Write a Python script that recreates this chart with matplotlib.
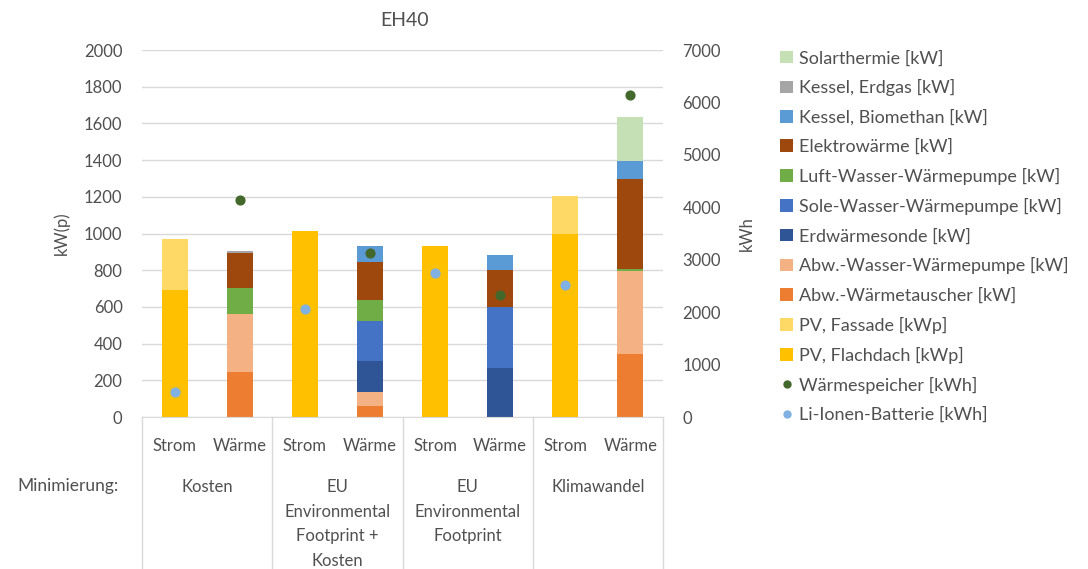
import numpy as np
import matplotlib
matplotlib.use('Agg')
import matplotlib.pyplot as plt
import matplotlib.transforms as mtransforms
from matplotlib.lines import Line2D

plt.rcParams['font.family'] = ['Lato', 'DejaVu Sans']

# Category labels
categories = ['Strom', 'Wärme'] * 4
groups = ['Kosten', 'EU\nEnvironmental\nFootprint +\nKosten',
          'EU\nEnvironmental\nFootprint', 'Klimawandel']

# Installed capacities [kW / kWp] - stack order bottom to top
pv_flachdach = [690, 0, 1012, 0, 930, 0, 1000, 0]
pv_fassade = [282, 0, 0, 0, 0, 0, 205, 0]
abw_waermetauscher = [0, 247, 0, 58, 0, 0, 0, 345]
abw_wasser_wp = [0, 314, 0, 78, 0, 0, 0, 452]
erdwaermesonde = [0, 0, 0, 171, 0, 267, 0, 0]
sole_wasser_wp = [0, 0, 0, 218, 0, 331, 0, 0]
luft_wasser_wp = [0, 142, 0, 114, 0, 0, 0, 8]
elektrowaerme = [0, 192, 0, 207, 0, 205, 0, 494]
kessel_biomethan = [0, 0, 0, 86, 0, 78, 0, 96]
kessel_erdgas = [0, 10, 0, 0, 0, 0, 0, 0]
solarthermie = [0, 0, 0, 0, 0, 0, 0, 242]

# Storage [kWh] (right axis)
nan = np.nan
waermespeicher = [nan, 4133, nan, 3134, nan, 2333, nan, 6147]
li_ionen_batterie = [471, nan, 2054, nan, 2752, nan, 2512, nan]

series = [
    ('PV, Flachdach [kWp]', pv_flachdach, '#FFC000'),
    ('PV, Fassade [kWp]', pv_fassade, '#FFD966'),
    ('Abw.-Wärmetauscher [kW]', abw_waermetauscher, '#ED7D31'),
    ('Abw.-Wasser-Wärmepumpe [kW]', abw_wasser_wp, '#F4B183'),
    ('Erdwärmesonde [kW]', erdwaermesonde, '#2F5597'),
    ('Sole-Wasser-Wärmepumpe [kW]', sole_wasser_wp, '#4472C4'),
    ('Luft-Wasser-Wärmepumpe [kW]', luft_wasser_wp, '#70AD47'),
    ('Elektrowärme [kW]', elektrowaerme, '#9E480E'),
    ('Kessel, Biomethan [kW]', kessel_biomethan, '#5B9BD5'),
    ('Kessel, Erdgas [kW]', kessel_erdgas, '#A5A5A5'),
    ('Solarthermie [kW]', solarthermie, '#C5E0B4'),
]

txt = '#505050'
grid = '#D9D9D9'

fig = plt.figure(figsize=(10.88, 5.69), dpi=100)
ax = fig.add_axes([0.1305, 0.267, 0.4789, 0.645])
x = np.arange(len(categories))

handles = []
bottom = np.zeros(len(categories))
for name, vals, color in series:
    vals = np.array(vals, dtype=float)
    b = ax.bar(x, vals, 0.4, bottom=bottom, color=color, label=name, zorder=2)
    handles.append(b)
    bottom += vals

ax.set_xlim(-0.5, len(categories) - 0.5)
ax.set_ylim(0, 2000)
ax.set_yticks(np.arange(0, 2001, 200))
ax.yaxis.grid(True, color=grid, lw=1)
ax.set_axisbelow(True)
for s in ['left', 'right', 'top']:
    ax.spines[s].set_visible(False)
ax.spines['bottom'].set_color(grid)
ax.set_xticks(x, categories)
ax.tick_params(axis='x', length=0, pad=15, labelsize=12, labelcolor=txt)
ax.tick_params(axis='y', length=0, pad=14, labelsize=12, labelcolor=txt)
ax.set_ylabel('kW(p)', fontsize=12, color=txt)
ax.yaxis.set_label_coords(-0.138, 0.5)

ax2 = ax.twinx()
ax2.set_ylim(0, 7000)
ax2.set_yticks(np.arange(0, 7001, 1000))
for s in ax2.spines.values():
    s.set_visible(False)
ax2.tick_params(axis='y', length=0, pad=14, labelsize=12, labelcolor=txt)
ax2.set_ylabel('kWh', fontsize=12, color=txt)
ax2.yaxis.set_label_coords(1.146, 0.5)
ax2.scatter(x, waermespeicher, s=40, color='#43682B', zorder=3)
ax2.scatter(x, li_ionen_batterie, s=40, color='#80B1E2', zorder=3)

# Multi-level category axis
trans = mtransforms.blended_transform_factory(ax.transData, ax.transAxes)
for b in [-0.5, 1.5, 3.5, 5.5, 7.5]:
    ax.plot([b, b], [0, -0.42], color=grid, lw=1, transform=trans, clip_on=False)
for i, g in enumerate(groups):
    ax.text(2 * i + 0.5, -0.168, g, transform=trans, ha='center', va='top',
            fontsize=12, color=txt, linespacing=1.68)
fig.text(68 / 1088, 1 - 486 / 569, 'Minimierung:', ha='center', va='center',
         fontsize=12.5, color=txt)

fig.text(405 / 1088, 1 - 20 / 569, 'EH40', ha='center', va='center',
         fontsize=14, color=txt)

leg_handles = handles[::-1] + [
    Line2D([], [], ls='', marker='o', ms=5, color='#43682B'),
    Line2D([], [], ls='', marker='o', ms=5, color='#80B1E2'),
]
leg_labels = [s[0] for s in series][::-1] + ['Wärmespeicher [kWh]', 'Li-Ionen-Batterie [kWh]']
fig.legend(leg_handles, leg_labels, loc='upper left',
           bbox_to_anchor=(764 / 1088, 1 - 34 / 569), frameon=False,
           fontsize=13, labelspacing=0.72, handlelength=0.7, handleheight=0.7,
           handletextpad=0.35, labelcolor=txt)

fig.savefig('out.png', dpi=100)
